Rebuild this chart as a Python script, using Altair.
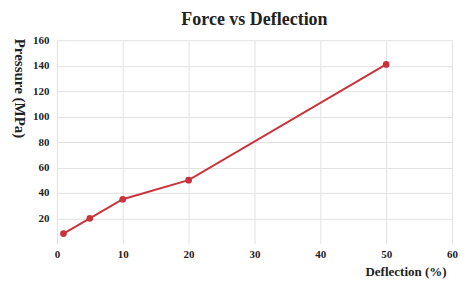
import altair as alt
import pandas as pd

deflection = [1, 5, 10, 20, 50]
pressure = [8, 20, 35, 50, 141]
x_ticks = [0, 10, 20, 30, 40, 50, 60]
y_ticks = [20, 40, 60, 80, 100, 120, 140, 160]

df = pd.DataFrame({"Deflection": deflection, "Pressure": pressure})

FONT = "Liberation Serif"
RED = "#c9343c"

x = alt.X("Deflection:Q", scale=alt.Scale(domain=[0, 60], nice=False),
          axis=alt.Axis(values=x_ticks, title="Deflection (%)", grid=True, domain=False, ticks=False,
                        labelPadding=5, labelFontSize=11, labelFontWeight="bold", labelFont=FONT,
                        labelColor="#222", titleFont=FONT, titleFontSize=13, titleFontWeight="bold",
                        titleColor="#222", titleAlign="right", titleBaseline="middle",
                        titleX=390, titleY=28, labelFlush=False))
y = alt.Y("Pressure:Q", scale=alt.Scale(domain=[0, 160], nice=False),
          axis=alt.Axis(values=y_ticks, title="Pressure (MPa)", grid=True, domain=False, ticks=False,
                        labelPadding=8, labelFontSize=11, labelFontWeight="bold", labelFont=FONT,
                        labelColor="#222", titleFont=FONT, titleFontSize=15, titleFontWeight="bold",
                        titleColor="#222", titleAngle=90, titleAlign="left", titleBaseline="middle",
                        titleX=-37, titleY=-2))

line = alt.Chart(df).mark_line(color=RED, strokeWidth=2).encode(x=x, y=y)
pts = alt.Chart(df).mark_point(color=RED, filled=True, size=45, opacity=1).encode(x=x, y=y)

chart = (line + pts).properties(
    width=396, height=204,
    autosize=alt.AutoSizeParams(type="none"),
    padding={"left": 49, "top": 32, "right": 10, "bottom": 40},
    title=alt.TitleParams("Force vs Deflection", font=FONT, fontSize=18, fontWeight="bold",
                          color="#222", anchor="middle", offset=5),
).configure_view(stroke=None).configure_axis(gridColor="#e2e2e2", gridWidth=1)

chart.save("out.html", embed_options={"renderer": "svg", "actions": False})
